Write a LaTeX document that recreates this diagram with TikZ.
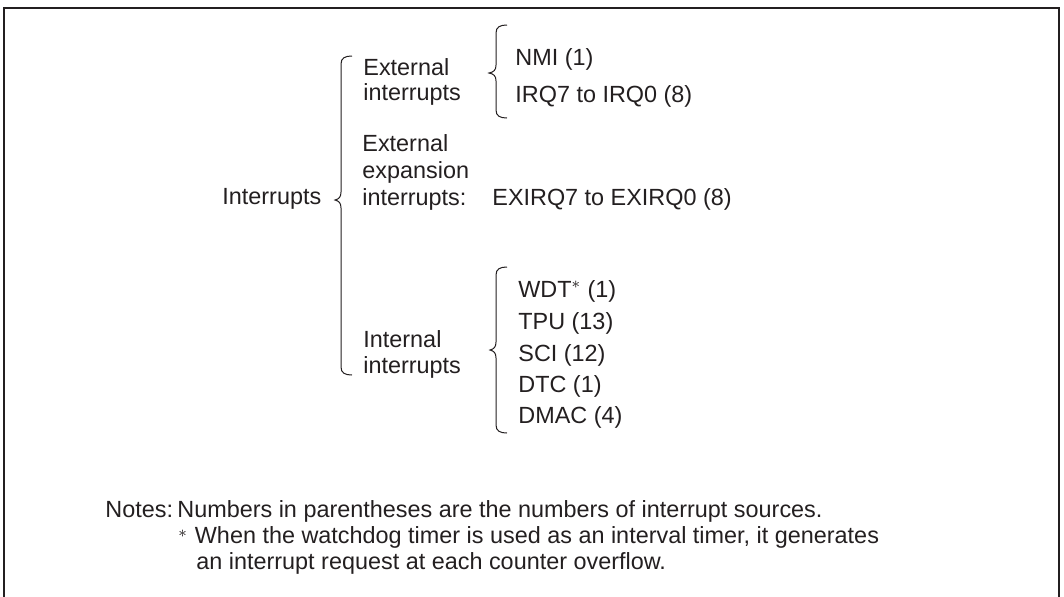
\documentclass[tikz,border=0pt]{standalone}
\usepackage{fontspec}
\setmainfont{Liberation Sans}
\usetikzlibrary{positioning}
\definecolor{ink}{RGB}{35,31,32}

\begin{document}
\begin{tikzpicture}[
    x=0.5pt, y=-0.5pt,
    txt/.style={anchor=base west, inner sep=0pt, align=left, text=ink,
        font=\fontsize{11.7}{13}\selectfont},
    brace/.style={draw=ink, line width=0.5pt}
]
\useasboundingbox (0,0) rectangle (1064,596);

% Frame
\draw[ink, line width=1.3pt] (4,610) -- (4,8) -- (1059,8) -- (1059,610);

% -------------------------
% Labels
% -------------------------
\node[txt] (intr) at (222,204) {Interrupts};

\node[txt, font=\fontsize{11.7}{12.5}\selectfont] (ext) at (363,100) {External\\interrupts};
\node[txt] (nmi) at (515,65) {NMI (1)};
\node[txt] (irq) at (515,102) {IRQ7 to IRQ0 (8)};

\node[txt, font=\fontsize{11.7}{13.3}\selectfont] (expn) at (362,205) {External\\expansion\\interrupts:};
\node[txt] (exirq) at (492,205) {EXIRQ7 to EXIRQ0 (8)};

\node[txt] (int) at (363,373) {Internal\\interrupts};
\node[txt] (wdt) at (518,297) {WDT\textsuperscript{$\ast$} (1)};
\node[txt] (tpu) at (518,329) {TPU (13)};
\node[txt] (sci) at (518,361) {SCI (12)};
\node[txt] (dtc) at (518,392) {DTC (1)};
\node[txt] (dmac) at (518,423) {DMAC (4)};

% -------------------------
% Notes
% -------------------------
\node[txt] (notes) at (105,517) {Notes:};
\node[txt] (note1) at (177,517) {Numbers in parentheses are the numbers of interrupt sources.};
\node[txt] (note2) at (178,569) {\raisebox{3pt}{\fontsize{8}{8}\selectfont$\ast$}\hspace{4pt}When the watchdog timer is used as an interval timer, it generates\\\hspace{9pt}an interrupt request at each counter overflow.};

% -------------------------
% Braces
% -------------------------
% Interrupts
\draw[brace] (352,56) .. controls (345,56) and (341,58) .. (341,64) -- (341,192)
    .. controls (341,197) and (339,199) .. (335,200)
    .. controls (339,201) and (341,203) .. (341,208) -- (341,367)
    .. controls (341,373) and (345,375) .. (352,375);

% External interrupts
\draw[brace] (507,25) .. controls (500,25) and (496,27) .. (496,33) -- (496,65)
    .. controls (496,70) and (494,72) .. (489,73)
    .. controls (494,74) and (496,76) .. (496,81) -- (496,110)
    .. controls (496,116) and (500,118) .. (507,118);

% Internal interrupts
\draw[brace] (507,267) .. controls (500,267) and (496,269) .. (496,275) -- (496,342)
    .. controls (496,347) and (494,349) .. (490,350)
    .. controls (494,351) and (496,353) .. (496,358) -- (496,425)
    .. controls (496,431) and (500,433) .. (507,433);

\end{tikzpicture}
\end{document}
